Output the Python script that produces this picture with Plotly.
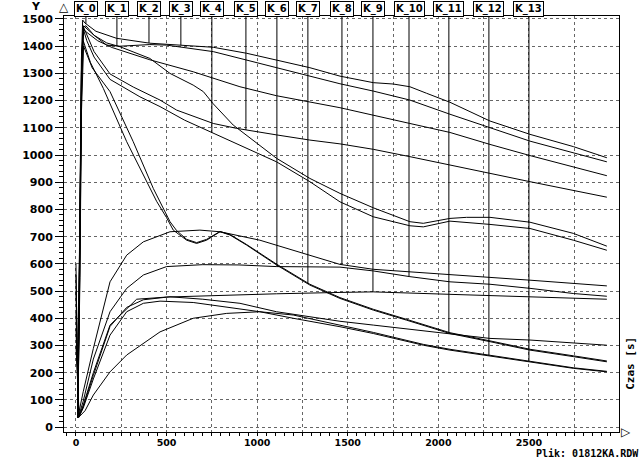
import numpy as np
import plotly.graph_objects as go

# ---------------- data (time [s], temperature) ----------------
t_A = [10, 22, 30, 37, 50, 110, 224, 408, 500, 758, 942, 1107, 1291, 1457, 1641, 1751, 1843, 1935, 2064, 2285, 2506, 2745, 2930]
T_A = [35, 700, 1350, 1496, 1485, 1455, 1429, 1411, 1407, 1396, 1374, 1349, 1321, 1290, 1266, 1261, 1251, 1227, 1194, 1125, 1076, 1031, 990]

t_B = [10, 22, 30, 40, 55, 100, 169, 243, 408, 500, 758, 942, 1107, 1291, 1457, 1641, 1843, 2064, 2285, 2506, 2930]
T_B = [35, 650, 1300, 1470, 1475, 1440, 1404, 1400, 1406, 1404, 1380, 1349, 1319, 1288, 1262, 1235, 1202, 1150, 1100, 1051, 975]

t_C = [10, 24, 32, 42, 60, 120, 200, 300, 408, 647, 905, 1107, 1457, 1843, 2064, 2285, 2506, 2930]
T_C = [35, 800, 1350, 1460, 1450, 1420, 1395, 1372, 1350, 1306, 1251, 1218, 1174, 1116, 1083, 1039, 998, 924]

t_D = [10, 24, 32, 42, 60, 100, 188, 316, 464, 556, 758, 887, 1107, 1291, 1457, 1641, 1843, 2064, 2506, 2930]
T_D = [35, 850, 1380, 1470, 1440, 1380, 1298, 1250, 1202, 1165, 1116, 1098, 1074, 1055, 1041, 1021, 994, 963, 902, 845]

t_E = [10, 23, 31, 42, 60, 100, 170, 243, 408, 519, 647, 703, 758, 868, 1107, 1291, 1457, 1641, 1843, 1917, 2064, 2156, 2285, 2506, 2745, 2930]
T_E = [35, 750, 1350, 1475, 1465, 1440, 1412, 1398, 1355, 1300, 1257, 1233, 1188, 1110, 988, 914, 859, 806, 755, 749, 767, 771, 771, 753, 712, 665]

t_F = [10, 24, 32, 42, 60, 100, 188, 353, 464, 600, 758, 942, 1107, 1291, 1457, 1641, 1843, 1917, 2064, 2285, 2506, 2745, 2930]
T_F = [35, 800, 1320, 1460, 1420, 1360, 1278, 1214, 1178, 1128, 1080, 1025, 975, 902, 828, 773, 740, 736, 757, 745, 730, 687, 650]

t_G = [10, 22, 30, 40, 80, 151, 280, 390, 445, 500, 537, 611, 666, 721, 795, 850, 942, 1107, 1291, 1457, 1641, 1825, 2064, 2285, 2506, 2745, 2930]
T_G = [35, 600, 1200, 1420, 1340, 1245, 1049, 902, 830, 770, 724, 687, 675, 687, 718, 706, 669, 596, 522, 473, 430, 393, 344, 314, 283, 259, 240]

t_S = [10, 22, 30, 42, 90, 188, 316, 427, 519, 556, 611, 666, 721, 795, 850, 942, 1107, 1291, 1457, 1641, 1825, 2064, 2285, 2506, 2745, 2930]
T_S = [35, 550, 1150, 1400, 1320, 1233, 1049, 877, 755, 722, 690, 678, 690, 719, 708, 671, 599, 525, 476, 433, 396, 347, 317, 286, 262, 243]

t_I = [0, 12, 40, 96, 188, 280, 372, 519, 684, 795, 1015, 1291, 1457, 1641, 1843, 2064, 2285, 2506, 2930]
T_I = [600, 40, 130, 289, 534, 632, 681, 718, 724, 718, 687, 632, 598, 580, 571, 561, 551, 540, 519]

t_J = [0, 14, 40, 96, 188, 280, 372, 500, 700, 900, 1107, 1457, 1641, 1843, 2064, 2285, 2506, 2745, 2930]
T_J = [560, 38, 95, 250, 424, 510, 559, 590, 597, 596, 590, 588, 574, 553, 534, 525, 510, 491, 481]

t_K = [0, 14, 40, 96, 188, 335, 500, 832, 1107, 1457, 1641, 2064, 2506, 2930]
T_K = [500, 36, 80, 200, 375, 470, 478, 485, 490, 495, 497, 488, 479, 470]

t_L = [0, 16, 40, 96, 188, 280, 372, 519, 700, 905, 1107, 1457, 1641, 2064, 2285, 2506, 2930]
T_L = [420, 36, 75, 190, 370, 440, 468, 479, 470, 455, 424, 389, 375, 344, 326, 320, 301]

t_M = [0, 16, 40, 96, 188, 280, 372, 464, 647, 832, 1015, 1199, 1457, 1641, 1917, 2064, 2285, 2506, 2745, 2930]
T_M = [360, 37, 70, 177, 338, 424, 455, 463, 458, 442, 424, 400, 369, 344, 301, 283, 262, 240, 216, 203]

t_N = [0, 18, 50, 96, 188, 280, 464, 647, 832, 1015, 1199, 1457, 1641, 1917, 2064, 2285, 2506, 2745, 2930]
T_N = [300, 38, 60, 118, 203, 265, 350, 400, 418, 424, 412, 375, 348, 304, 286, 264, 242, 218, 205]

# K markers: label, time, curve the marker line ends on
k_labels = ["K_0", "K_1", "K_2", "K_3", "K_4", "K_5", "K_6", "K_7", "K_8", "K_9", "K_10", "K_11", "K_12", "K_13"]
k_times = [55, 226, 403, 579, 750, 938, 1109, 1280, 1468, 1639, 1838, 2058, 2279, 2500]
k_curve = ["A", "B", "A", "A", "F", "D", "J", "G", "I", "K", "J", "G", "M", "M"]

x_ticks = [0, 250, 500, 750, 1000, 1250, 1500, 1750, 2000, 2250, 2500, 2750]
x_ticktext = ["0", "", "500", "", "1000", "", "1500", "", "2000", "", "2500", ""]
y_ticks = list(range(0, 1501, 100))

curves = {
    "A": (t_A, T_A), "B": (t_B, T_B), "C": (t_C, T_C), "D": (t_D, T_D),
    "E": (t_E, T_E), "F": (t_F, T_F), "G": (t_G, T_G), "S": (t_S, T_S),
    "I": (t_I, T_I), "J": (t_J, T_J), "K": (t_K, T_K), "L": (t_L, T_L),
    "M": (t_M, T_M), "N": (t_N, T_N),
}

XR = [-66, 2997]
YR = [-18, 1511]

fig = go.Figure()
for name, (tx, ty) in curves.items():
    fig.add_trace(go.Scatter(x=tx, y=ty, mode="lines", name=name,
                             line=dict(color="black", width=1), showlegend=False,
                             hoverinfo="skip"))

LBL = dict(family="DejaVu Sans", size=11, color="black", weight="bold")

shapes = []
annotations = []
for lab, kt, kc in zip(k_labels, k_times, k_curve):
    tx, ty = curves[kc]
    yend = float(np.interp(kt, tx, ty))
    shapes.append(dict(type="line", xref="x", yref="y", x0=kt, x1=kt, y0=yend, y1=YR[1],
                       line=dict(color="black", width=1)))
    annotations.append(dict(x=kt, xref="x", y=1.017, yref="paper", text=lab, showarrow=False,
                            font=dict(family="DejaVu Sans", size=10, color="black", weight="bold"),
                            bordercolor="black", borderwidth=1, borderpad=1,
                            bgcolor="white", xanchor="center", yanchor="middle"))

annotations += [
    dict(x=-0.05, xref="paper", y=1.024, yref="paper", text="Y", showarrow=False,
         font=LBL, xanchor="center", yanchor="middle"),
    dict(x=0.0, xref="paper", y=1.022, yref="paper", text="△", showarrow=False,
         font=dict(family="DejaVu Sans", size=12, color="black"), xanchor="center", yanchor="middle"),
    dict(x=1.0, xref="paper", y=0.0, yref="paper", text="▷", showarrow=False,
         font=dict(family="DejaVu Sans", size=12, color="black"), xanchor="left", yanchor="middle"),
    dict(x=1.0, xref="paper", y=0.165, yref="paper", text="Czas [s]", showarrow=False, textangle=-90,
         font=dict(family="DejaVu Sans Mono", size=11, color="black", weight="bold"),
         xanchor="left", yanchor="middle", xshift=3),
    dict(x=1.0, xref="paper", y=-0.0673, yref="paper", text="Plik: 01812KA.RDW", showarrow=False,
         font=dict(family="DejaVu Sans Mono", size=10, color="black", weight="bold"),
         xanchor="right", yanchor="bottom", xshift=21, borderpad=0),
]

fig.update_layout(
    width=640, height=460,
    margin=dict(l=64, r=21, t=16, b=28, autoexpand=False),
    paper_bgcolor="white", plot_bgcolor="white",
    shapes=shapes, annotations=annotations,
    showlegend=False,
)
fig.update_xaxes(range=XR, tickvals=x_ticks, ticktext=x_ticktext, automargin=False,
                 showgrid=True, gridcolor="#666", griddash="dot", gridwidth=1,
                 showline=True, linecolor="black", linewidth=1, mirror=True,
                 ticks="outside", ticklen=2, tickcolor="black", zeroline=False,
                 tickfont=dict(family="DejaVu Sans", size=9.5, color="black", weight="bold"),
                 minor=dict(dtick=50, tick0=0, ticks="outside", ticklen=3, tickcolor="black", showgrid=False))
fig.update_yaxes(range=YR, tickvals=y_ticks, automargin=False,
                 showgrid=True, gridcolor="#666", griddash="dot", gridwidth=1,
                 showline=True, linecolor="black", linewidth=1, mirror=True,
                 ticks="outside", ticklen=8, tickcolor="black", zeroline=False,
                 tickfont=LBL,
                 minor=dict(dtick=20, tick0=0, ticks="outside", ticklen=4, tickcolor="black", showgrid=False))

fig.write_html("out.html")
